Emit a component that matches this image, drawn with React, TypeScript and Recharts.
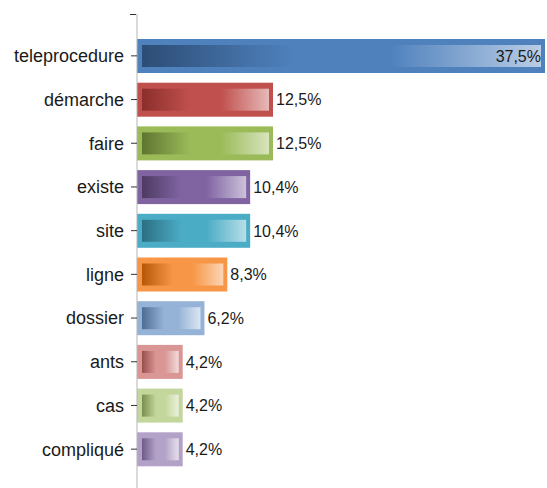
import { Bar, BarChart, LabelList, XAxis, YAxis } from "recharts";

const categories = ["teleprocedure", "démarche", "faire", "existe", "site", "ligne", "dossier", "ants", "cas", "compliqué"];
const shares = [37.5, 12.5, 12.5, 10.4, 10.4, 8.3, 6.2, 4.2, 4.2, 4.2];

// base / dark / light per bar
const baseColors = ["#4F81BD", "#C0504D", "#9BBB59", "#8064A2", "#4BACC6", "#F79646", "#95B3D7", "#D99694", "#C3D69B", "#B3A2C7"];
const darkColors = ["#2C4D75", "#8B2E2C", "#5E7530", "#4D3B62", "#2C6F82", "#B65708", "#4F6D93", "#9A4E4C", "#7A8F4E", "#6F5A8A"];
const lightColors = ["#B9CDE5", "#E6B9B8", "#D7E4BD", "#CCC1DA", "#B7DEE8", "#FCD5B5", "#DCE6F2", "#F2DCDB", "#EBF1DE", "#E6E0EC"];

const data = categories.map((name, i) => ({ name, value: shares[i] }));

const fmt = (v: number) => v.toFixed(1).replace(".", ",") + "%";

function GlossBar(props: any) {
    const { x, y, width, height, index } = props;
    return (
        <g>
            <rect x={x} y={y} width={width} height={height} fill={baseColors[index]} />
            <rect
                x={x + 5}
                y={y + 6}
                width={Math.max(width - 9, 0)}
                height={height - 12}
                fill={`url(#grad${index})`}
            />
        </g>
    );
}

function ValueLabel(props: any) {
    const { x, y, width, height, value, index } = props;
    const inside = index === 0;
    return (
        <text
            x={inside ? x + width - 4 : x + width + 3}
            y={y + height / 2}
            dy="0.36em"
            textAnchor={inside ? "end" : "start"}
            fontSize={16}
            fill="#1a1a1a"
        >
            {fmt(value)}
        </text>
    );
}

export default function App() {
    return (
        <div style={{ position: "absolute", left: 0, top: 0, width: 547, height: 488, background: "#fff", fontFamily: "'Liberation Sans', Arial, sans-serif" }}>
            <BarChart
                width={547}
                height={488}
                data={data}
                layout="vertical"
                margin={{ top: 14, right: 2, bottom: 0, left: 0 }}
            >
                <defs>
                    {baseColors.map((c, i) => (
                        <linearGradient key={i} id={`grad${i}`} x1="0" y1="0" x2="1" y2="0">
                            <stop offset="0%" stopColor={darkColors[i]} />
                            <stop offset="38%" stopColor={c} />
                            <stop offset="62%" stopColor={c} />
                            <stop offset="100%" stopColor={lightColors[i]} />
                        </linearGradient>
                    ))}
                </defs>
                <XAxis type="number" domain={[0, 37.5]} hide />
                <YAxis
                    type="category"
                    dataKey="name"
                    width={137}
                    padding={{ top: 20, bottom: 17 }}
                    axisLine={{ stroke: "#b5b5b5" }}
                    tickLine={{ stroke: "#333" }}
                    tickSize={6}
                    tickMargin={7}
                    tick={{ fontSize: 18, fill: "#1a1a1a" }}
                    interval={0}
                />
                <Bar dataKey="value" barSize={34} shape={<GlossBar />} isAnimationActive={false}>
                    <LabelList dataKey="value" content={<ValueLabel />} />
                </Bar>
            </BarChart>
            <div style={{ position: "absolute", left: 130, top: 14, width: 6, height: 1, background: "#333" }} />
        </div>
    );
}
